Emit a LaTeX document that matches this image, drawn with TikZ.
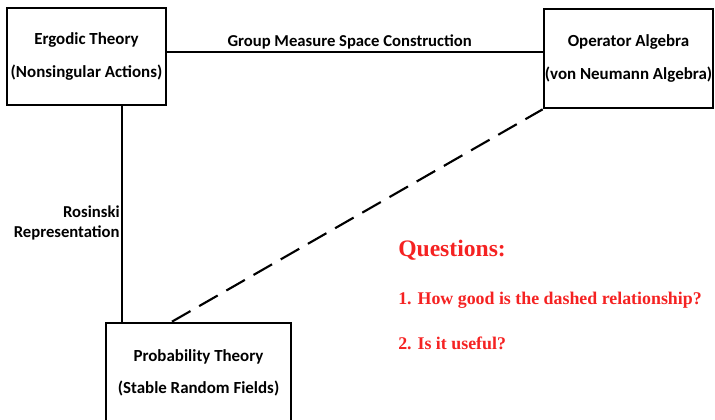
\documentclass[tikz,border=0pt]{standalone}
\usepackage{fontspec}
\setmainfont{Carlito}
\newfontfamily\qfont{Liberation Serif}
\usepackage{xcolor}
\definecolor{qred}{HTML}{F52222}
\usepackage{tikz}
\usetikzlibrary{arrows.meta,positioning,calc}

\begin{document}
\begin{tikzpicture}[x=0.75pt,y=-0.75pt,
 font=\fontsize{12.7}{24.5}\selectfont\bfseries,
 area/.style={draw=black,line width=2pt,inner sep=0pt,align=center},
 conn/.style={draw=black,line width=1.6pt},
 lab/.style={inner sep=1pt,font=\fontsize{12.5}{15}\selectfont\bfseries},
 qtext/.style={anchor=west,inner sep=0pt,text=qred,font=\qfont\fontsize{13.4}{16}\selectfont\bfseries}]
\useasboundingbox (0,0) rectangle (715,420);
\node[area,minimum width=119.25pt,minimum height=72.75pt] (ergodic) at (86.5,56.5) {Ergodic Theory\\%
  (Nonsingular Actions)};
\node[area,minimum width=126.75pt,minimum height=74.25pt] (opalg) at (628.5,58.5) {Operator Algebra\\%
  (von Neumann Algebra)};
\node[area,minimum width=138.75pt,minimum height=75pt] (prob) at (198.5,373) {Probability Theory\\%
  (Stable Random Fields)};
\draw[conn] ([yshift=3.4pt]ergodic.east) -- ([yshift=3.4pt]ergodic.east -| opalg.west)%
  node[lab,midway,above,xshift=-4pt] {Group Measure Space Construction};
\draw[conn] ([xshift=26.6pt]ergodic.south) -- ([xshift=26.6pt]ergodic.south |- prob.north)%
  node[lab,pos=0.54,left,align=right] {Rosinski\\Representation};
\draw[conn,dash pattern=on 16pt off 7.5pt] ([xshift=-19.9pt]prob.north) -- (opalg.south west);
\node[qtext,font=\qfont\fontsize{17.7}{20}\selectfont\bfseries] (q) at (398,250) {Questions:};
\node[qtext] (q1) at (398,300) {1. How good is the dashed relationship?};
\node[qtext] (q2) at (398,343) {2. Is it useful?};
\end{tikzpicture}
\end{document}
